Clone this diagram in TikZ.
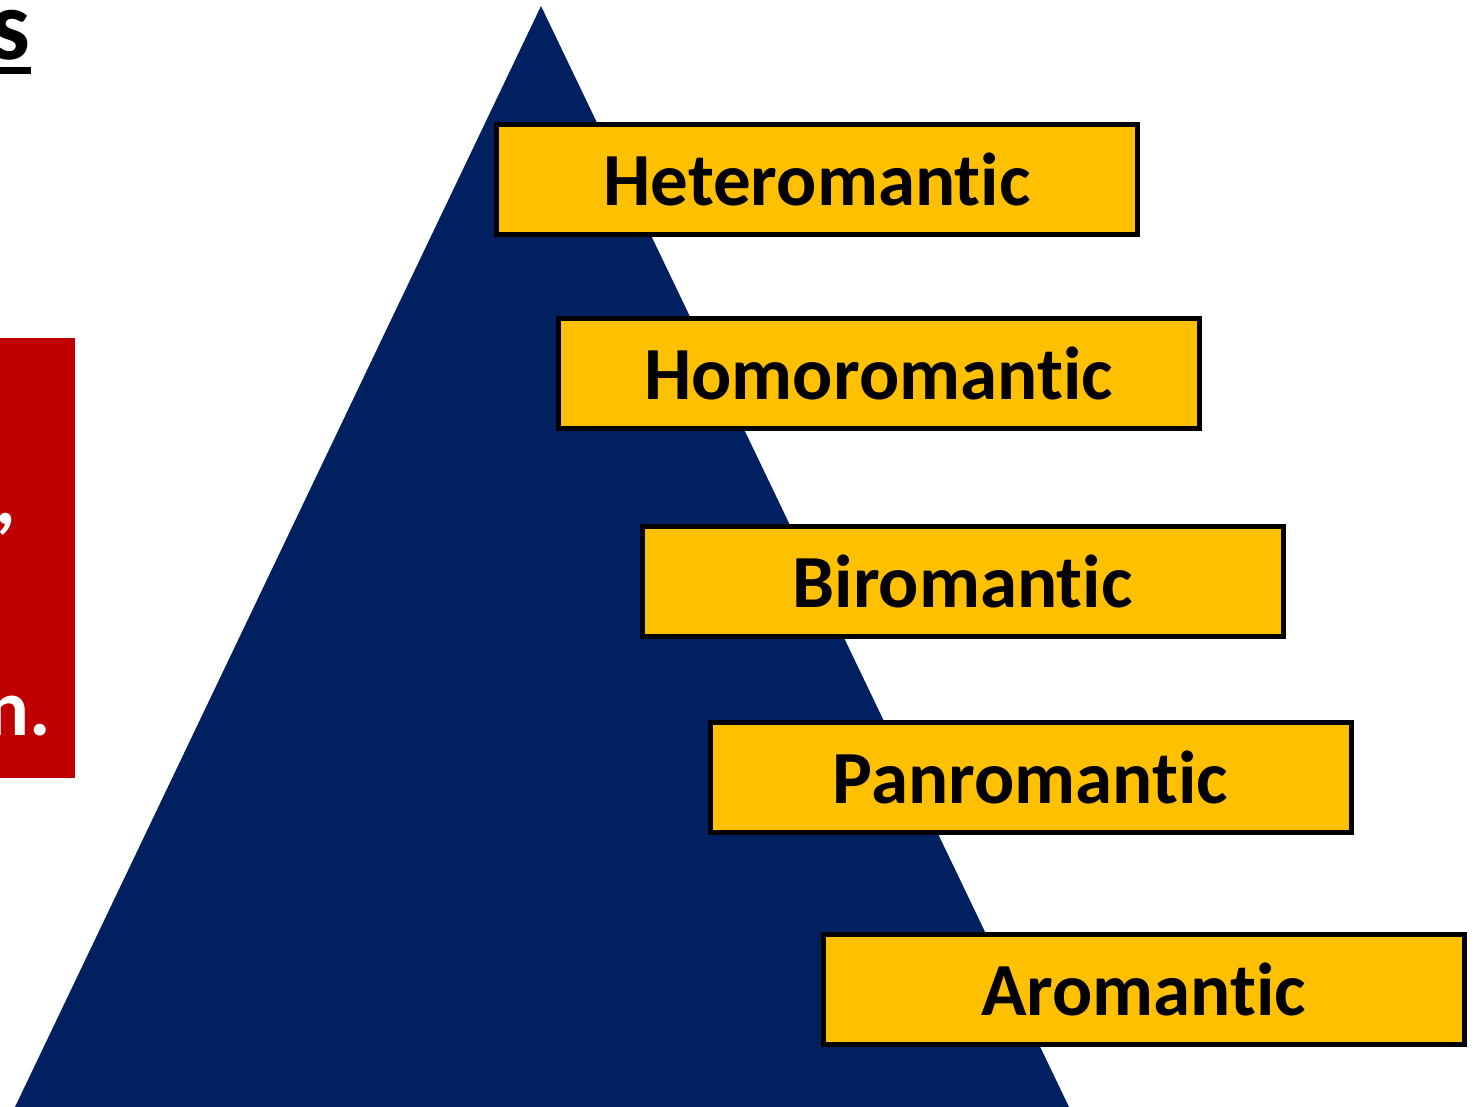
\documentclass[tikz,border=0pt]{standalone}
\usepackage{fontspec}
\setmainfont[Ligatures=NoCommon]{Carlito}
\usepackage{tikz}
\usetikzlibrary{positioning,calc}
\definecolor{navy}{HTML}{002060}
\definecolor{amber}{HTML}{FFC000}
\definecolor{crimson}{HTML}{C00000}

\begin{document}
\begin{tikzpicture}[x=0.5pt, y=-0.5pt,
  orient/.style={draw=black, line width=2.5pt, fill=amber, minimum width=320.5pt,
    minimum height=55pt, inner sep=0pt, font=\bfseries\fontsize{37.5}{45}\selectfont},
  panel text/.style={anchor=base east, inner sep=0pt, white, font=\bfseries\fontsize{40}{48}\selectfont}]
  \useasboundingbox (0,0) rectangle (1476,1107);
  \clip (0,0) rectangle (1476,1107);
  % cut-off title and side panel
  \node[anchor=base east, inner sep=0pt, font=\bfseries\fontsize{50}{60}\selectfont] (title) at (31,60) {s};
  \fill (-10,67) rectangle (31,74);
  \fill[crimson] (-10,338) rectangle (75,778);
  \node[panel text] (comma) at (17,524) {,};
  \node[panel text] (last) at (51,735) {n.};
  % pyramid
  \fill[navy] (15,1107) -- (541,6) -- (1069,1107) -- cycle;
  % orientations
  \node[orient] (hetero) at (817,179.5) {Heteromantic};
  \node[orient] (homo) at (878.5,373) {Homoromantic};
  \node[orient] (bi) at (962.5,581.5) {Biromantic};
  \node[orient] (pan) at (1030.5,777.5) {Panromantic};
  \node[orient] (aro) at (1143.5,989.5) {Aromantic};
\end{tikzpicture}
\end{document}
